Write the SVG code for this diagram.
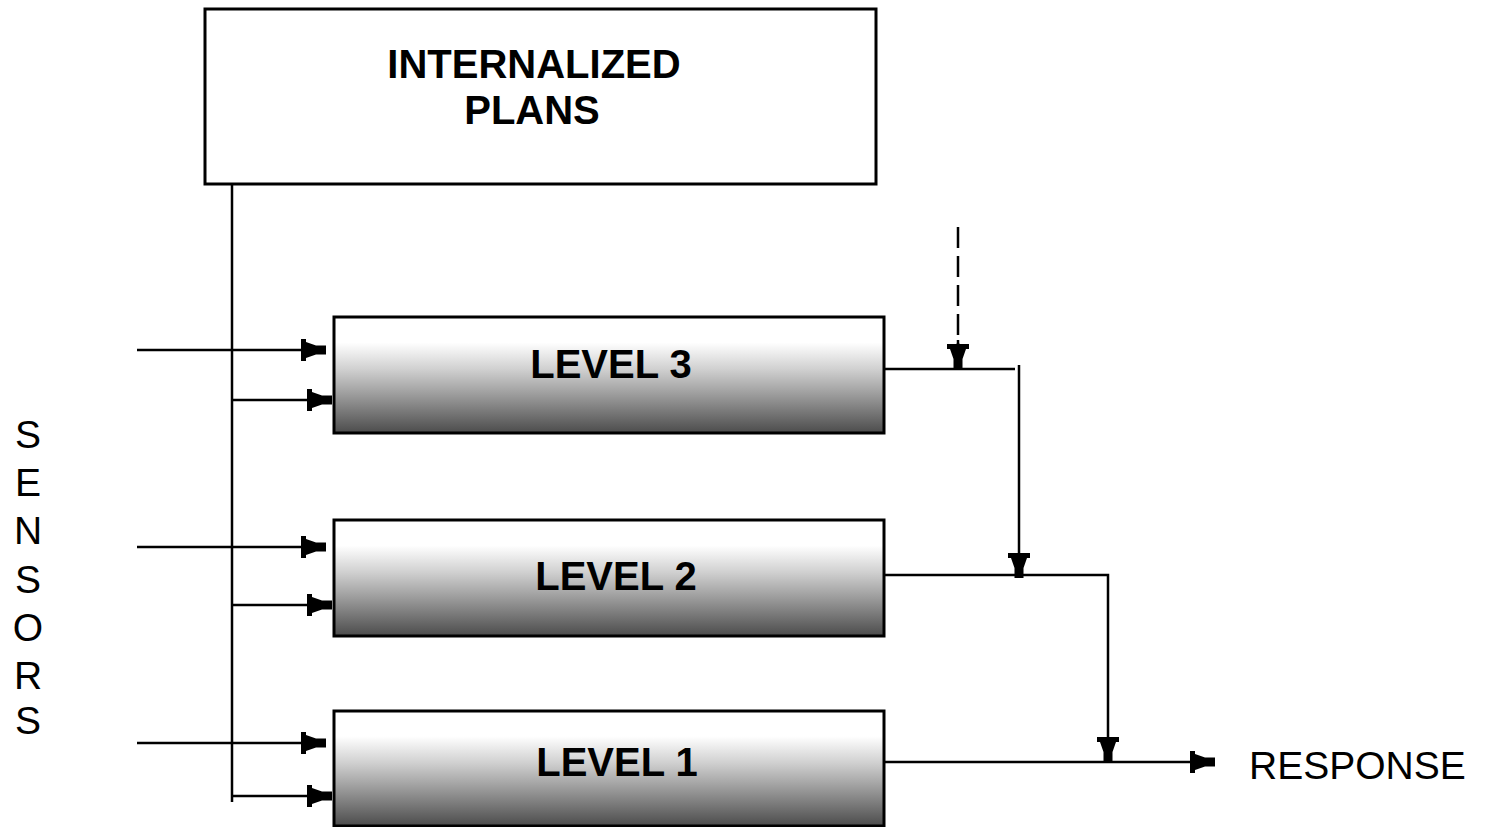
<svg xmlns="http://www.w3.org/2000/svg" width="1485" height="827" viewBox="0 0 1485 827">
<style>
.box{stroke:#000;stroke-width:3;}
.lbl{font-family:"Liberation Sans",Arial,sans-serif;font-weight:bold;font-size:40px;fill:#000;text-anchor:middle;}
.thin{font-family:"Liberation Sans",Arial,sans-serif;font-size:39px;fill:#000;}
.ln{stroke:#000;stroke-width:2.5;fill:none;}
</style>
<defs>
<linearGradient id="g" x1="0" y1="0" x2="0" y2="1">
<stop offset="0" stop-color="#ffffff"/>
<stop offset="0.22" stop-color="#ffffff"/>
<stop offset="0.45" stop-color="#d0d0d0"/>
<stop offset="0.62" stop-color="#a8a8a8"/>
<stop offset="1" stop-color="#4c4c4c"/>
</linearGradient>
<marker id="ah" markerUnits="userSpaceOnUse" markerWidth="30" markerHeight="30" viewBox="-27 -15 30 30" refX="0" refY="0" orient="auto">
<path d="M-25,-11 L-20,-11 L-20,-8 L-10,-4.5 L0,-4.5 L0,4.5 L-10,4.5 L-20,8 L-20,11 L-25,11 Z" fill="#000"/>
</marker>
</defs>
<g id="plans">
<rect class="box" x="205" y="9" width="671" height="175" fill="#fff"/>
<text class="lbl" x="534" y="78">INTERNALIZED</text>
<text class="lbl" x="532" y="124">PLANS</text>
</g>
<g id="level3">
<rect class="box" x="334" y="317" width="550" height="116" fill="url(#g)"/>
<text class="lbl" x="611" y="378">LEVEL 3</text>
</g>
<g id="level2">
<rect class="box" x="334" y="520" width="550" height="116" fill="url(#g)"/>
<text class="lbl" x="616" y="590">LEVEL 2</text>
</g>
<g id="level1">
<rect class="box" x="334" y="711" width="550" height="115" fill="url(#g)"/>
<text class="lbl" x="617" y="776">LEVEL 1</text>
</g>
<g id="sensors">
<text class="thin" x="28" y="448" text-anchor="middle">S</text>
<text class="thin" x="28" y="496" text-anchor="middle">E</text>
<text class="thin" x="28" y="544" text-anchor="middle">N</text>
<text class="thin" x="28" y="593" text-anchor="middle">S</text>
<text class="thin" x="28" y="641" text-anchor="middle">O</text>
<text class="thin" x="28" y="689" text-anchor="middle">R</text>
<text class="thin" x="28" y="734" text-anchor="middle">S</text>
</g>
<g id="response">
<text class="thin" x="1249" y="779">RESPONSE</text>
</g>
<g id="connectors">
<line class="ln" x1="232" y1="184" x2="232" y2="802"/>
<line class="ln" x1="137" y1="350" x2="326" y2="350" marker-end="url(#ah)"/>
<line class="ln" x1="137" y1="547" x2="326" y2="547" marker-end="url(#ah)"/>
<line class="ln" x1="137" y1="743" x2="326" y2="743" marker-end="url(#ah)"/>
<line class="ln" x1="232" y1="400" x2="332" y2="400" marker-end="url(#ah)"/>
<line class="ln" x1="232" y1="605" x2="332" y2="605" marker-end="url(#ah)"/>
<line class="ln" x1="232" y1="796" x2="332" y2="796" marker-end="url(#ah)"/>
<line class="ln" x1="884" y1="369" x2="1015" y2="369"/>
<line class="ln" x1="958" y1="227" x2="958" y2="345" stroke-dasharray="21 8"/>
<line class="ln" x1="958" y1="340" x2="958" y2="369" stroke="none" marker-end="url(#ah)"/>
<line class="ln" x1="1019" y1="365" x2="1019" y2="578" marker-end="url(#ah)"/>
<polyline class="ln" points="884,575 1108,575 1108,762" marker-end="url(#ah)"/>
<line class="ln" x1="884" y1="762" x2="1215" y2="762" marker-end="url(#ah)"/>
</g>
</svg>
